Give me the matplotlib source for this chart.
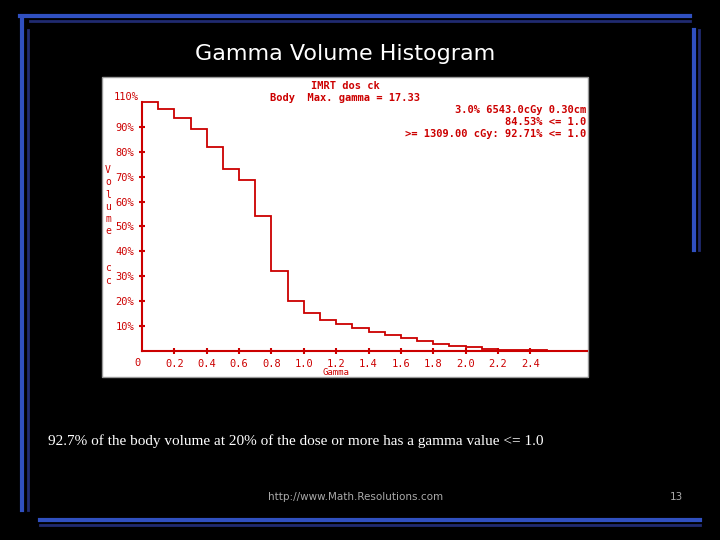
import matplotlib
matplotlib.use("Agg")
import matplotlib.pyplot as plt
from matplotlib.patches import Rectangle
from matplotlib.lines import Line2D

gamma_edges = [0.0,0.1,0.2,0.3,0.4,0.5,0.6,0.7,0.8,0.9,1.0,1.1,1.2,1.3,1.4,1.5,1.6,1.7,1.8,1.9,2.0,2.1,2.2,2.5,2.75]
volume_pct = [100,97.3,93.5,89.2,82,73.1,68.7,54,32.3,19.9,15.3,12.6,11,9.4,7.8,6.5,5.1,4.0,3.0,2.2,1.6,0.8,0.4,0.2]
xticks = [0.2,0.4,0.6,0.8,1.0,1.2,1.4,1.6,1.8,2.0,2.2,2.4]
yticks = [10,20,30,40,50,60,70,80,90]

W, H = 720, 540
fig = plt.figure(figsize=(7.2, 5.4), dpi=100, facecolor="black")
def fx(px): return px / W
def fy(py): return 1 - py / H

for (x0, y0, x1, y1, c, lw) in [
    (20, 16, 690, 16, "#3050c0", 3), (30, 21, 690, 21, "#202a70", 2),
    (22, 20, 22, 510, "#3050c0", 3), (28, 30, 28, 510, "#202a70", 2),
    (40, 520, 700, 520, "#3050c0", 3), (40, 525, 700, 525, "#202a70", 2),
    (694, 30, 694, 250, "#3050c0", 3), (699, 30, 699, 250, "#202a70", 2)]:
    fig.add_artist(Line2D([fx(x0), fx(x1)], [fy(y0), fy(y1)], color=c, lw=lw, zorder=-2))

fig.add_artist(Rectangle((fx(102), fy(377)), fx(588 - 102), (377 - 77) / H,
                         facecolor="white", edgecolor="#999999", lw=1, zorder=-1))

red = "#cc0000"
ax = fig.add_axes([fx(142), fy(351), fx(587 - 142), (351 - 77) / H])
ax.set_zorder(2)
ax.set_facecolor("none")
ax.stairs(volume_pct, gamma_edges, color=red, lw=1.3)
ax.set_xlim(0, 2.75)
ax.set_ylim(0, 110)
for s in ["top", "right"]:
    ax.spines[s].set_visible(False)
for s in ["left", "bottom"]:
    ax.spines[s].set_color(red)
    ax.spines[s].set_linewidth(1.5)
ax.spines["left"].set_bounds(0, 100)
ax.set_xticks(xticks)
ax.set_xticklabels([f"{v:.1f}" for v in xticks])
ax.set_yticks(yticks)
ax.set_yticklabels([f"{v}%" for v in yticks])
ax.tick_params(colors=red, direction="inout", length=5, width=1.5, labelsize=7.5, pad=3)
for lab in ax.get_xticklabels() + ax.get_yticklabels():
    lab.set_family("DejaVu Sans Mono")
    lab.set_color(red)
ax.text(-0.02, 102, "110%", ha="right", va="center", color=red, fontsize=7.5, family="DejaVu Sans Mono")
ax.text(-0.01, -3, "0", ha="right", va="top", color=red, fontsize=7.5, family="DejaVu Sans Mono")
ax.text(1.2, -7, "Gamma", ha="center", va="top", color=red, fontsize=6.5, family="DejaVu Sans Mono")
for i, ch in enumerate("Volume  cc"):
    fig.text(fx(108), fy(170 + i * 12.3), ch, color=red, fontsize=7, ha="center", va="center",
             family="DejaVu Sans Mono")

mono = dict(color=red, fontsize=7.5, family="DejaVu Sans Mono", fontweight="bold")
fig.text(fx(345), fy(86), "IMRT dos ck", ha="center", va="center", **mono)
fig.text(fx(345), fy(98), "Body  Max. gamma = 17.33", ha="center", va="center", **mono)
fig.text(fx(586), fy(110), "3.0% 6543.0cGy 0.30cm", ha="right", va="center", **mono)
fig.text(fx(586), fy(122), "84.53% <= 1.0", ha="right", va="center", **mono)
fig.text(fx(586), fy(134), ">= 1309.00 cGy: 92.71% <= 1.0", ha="right", va="center", **mono)

fig.text(fx(345), fy(54), "Gamma Volume Histogram", ha="center", va="center", color="white", fontsize=16)
fig.text(fx(48), fy(441), "92.7% of the body volume at 20% of the dose or more has a gamma value <= 1.0",
         ha="left", va="center", color="white", fontsize=11, family="Liberation Serif")
fig.text(fx(356), fy(497), "http://www.Math.Resolutions.com", ha="center", va="center", color="#aaaaaa", fontsize=7.5)
fig.text(fx(676), fy(497), "13", ha="center", va="center", color="#aaaaaa", fontsize=7.5)

fig.savefig("out.png", dpi=100, facecolor="black")
